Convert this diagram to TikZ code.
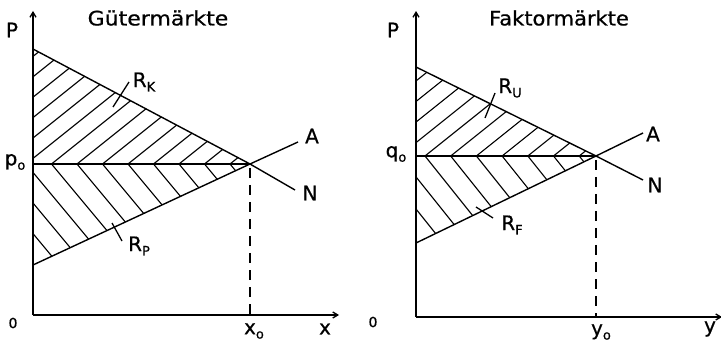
\documentclass[tikz,border=0pt]{standalone}
\usepackage{fontspec}
\setmainfont{DejaVu Sans}[FakeBold=0.6]
\usetikzlibrary{arrows.meta}
\newcommand\lsub[1]{\raisebox{-0.4ex}{\fontsize{13}{13}\selectfont #1}}
\begin{document}
\begin{tikzpicture}[x=1pt,y=-1pt,
  ax/.style={line width=1.3pt,-{Straight Barb[length=5pt,width=6pt]}},
  ln/.style={line width=1.4pt},
  hat/.style={line width=1.1pt},
  lbl/.style={inner sep=0pt,font=\fontsize{20}{20}\selectfont},
  small/.style={inner sep=0pt,font=\fontsize{14}{14}\selectfont},
  ttl/.style={inner sep=0pt,font=\fontsize{20}{20}\selectfont},
  dsh/.style={line width=1.3pt,dash pattern=on 10pt off 7pt,dash phase=-4pt},
  tick/.style={line width=1.3pt}]
\path[use as bounding box] (0,0) rectangle (721,342);
% ---------- left panel ----------
\coordinate (o1) at (33,315);
\coordinate (yt1) at (33,11);
\coordinate (xe1) at (339,315);
\coordinate (n1s) at (33,49);
\coordinate (e1) at (250,164);
\coordinate (n1e) at (295,190);
\coordinate (a1s) at (33,265);
\coordinate (a1e) at (298,142);
\coordinate (p1) at (33,164);
\coordinate (d1) at (250,315);
\begin{scope}
  \clip (n1s) -- (e1) -- (p1) -- cycle;
  \foreach \k in {-8,...,8} \draw[hat] ({51.5+25.5*\k},164) -- ++(220,-176);
\end{scope}
\begin{scope}
  \clip (a1s) -- (e1) -- (p1) -- cycle;
  \foreach \k in {-8,...,8} \draw[hat] ({51.5+25.5*\k},164) -- ++(200,240);
\end{scope}
\draw[ax] (o1) -- (yt1);
\draw[ax] (o1) -- (xe1);
\draw[ln] (n1s) -- (e1) -- (n1e);
\draw[ln] (a1s) -- (e1) -- (a1e);
\draw[ln] (p1) -- (e1);
\draw[dsh] (e1) -- (d1);
\node[ttl] (t1) at (158,18) {\scalebox{1.1}[1]{Gütermärkte}};
\node[lbl] (P1) at (12,30) {P};
\node[lbl] (p0) at (15,162) {p\lsub{o}};
\node[small] (z1) at (13,323) {0};
\node[lbl] (x0) at (254,331) {x\lsub{o}};
\node[lbl] (x1) at (325,329) {x};
\node[lbl] (A1) at (312,136) {A};
\node[lbl] (N1) at (310,193) {N};
\node[lbl] (RK) at (144,82) {R\lsub{K}};
\node[lbl] (RP) at (139,246) {R\lsub{P}};
\coordinate (rk1) at (113,107); \coordinate (rk2) at (129,82);
\coordinate (rp1) at (112,223); \coordinate (rp2) at (122,241);
\draw[tick] (rk1) -- (rk2);
\draw[tick] (rp1) -- (rp2);
% ---------- right panel ----------
\coordinate (o2) at (416,317);
\coordinate (yt2) at (416,11);
\coordinate (xe2) at (722,317);
\coordinate (n2s) at (416,67);
\coordinate (e2) at (596,156);
\coordinate (n2e) at (643,180);
\coordinate (a2s) at (416,243);
\coordinate (a2e) at (643,133);
\coordinate (p2) at (416,156);
\coordinate (d2) at (596,317);
\begin{scope}
  \clip (n2s) -- (e2) -- (p2) -- cycle;
  \foreach \k in {-8,...,8} \draw[hat] ({425+25.7*\k},156) -- ++(220,-176);
\end{scope}
\begin{scope}
  \clip (a2s) -- (e2) -- (p2) -- cycle;
  \foreach \k in {-8,...,8} \draw[hat] ({425+25.7*\k},156) -- ++(200,250);
\end{scope}
\draw[ax] (o2) -- (yt2);
\draw[ax] (o2) -- (xe2);
\draw[ln] (n2s) -- (e2) -- (n2e);
\draw[ln] (a2s) -- (e2) -- (a2e);
\draw[ln] (p2) -- (e2);
\draw[dsh] (e2) -- (d2);
\node[ttl] (t2) at (559,18) {\scalebox{1.05}[1]{Faktormärkte}};
\node[lbl] (P2) at (393,30) {P};
\node[lbl] (q0) at (396,154) {q\lsub{o}};
\node[small] (z2) at (373,322) {0};
\node[lbl] (y0) at (601,332) {y\lsub{o}};
\node[lbl] (y1) at (710,329) {y};
\node[lbl] (A2) at (653,134) {A};
\node[lbl] (N2) at (655,185) {N};
\node[lbl] (RU) at (510,88) {R\lsub{U}};
\node[lbl] (RF) at (512,225) {R\lsub{F}};
\coordinate (ru1) at (485,118); \coordinate (ru2) at (495,93);
\coordinate (rf1) at (476,207); \coordinate (rf2) at (493,218);
\draw[tick] (ru1) -- (ru2);
\draw[tick] (rf1) -- (rf2);
\end{tikzpicture}
\end{document}
